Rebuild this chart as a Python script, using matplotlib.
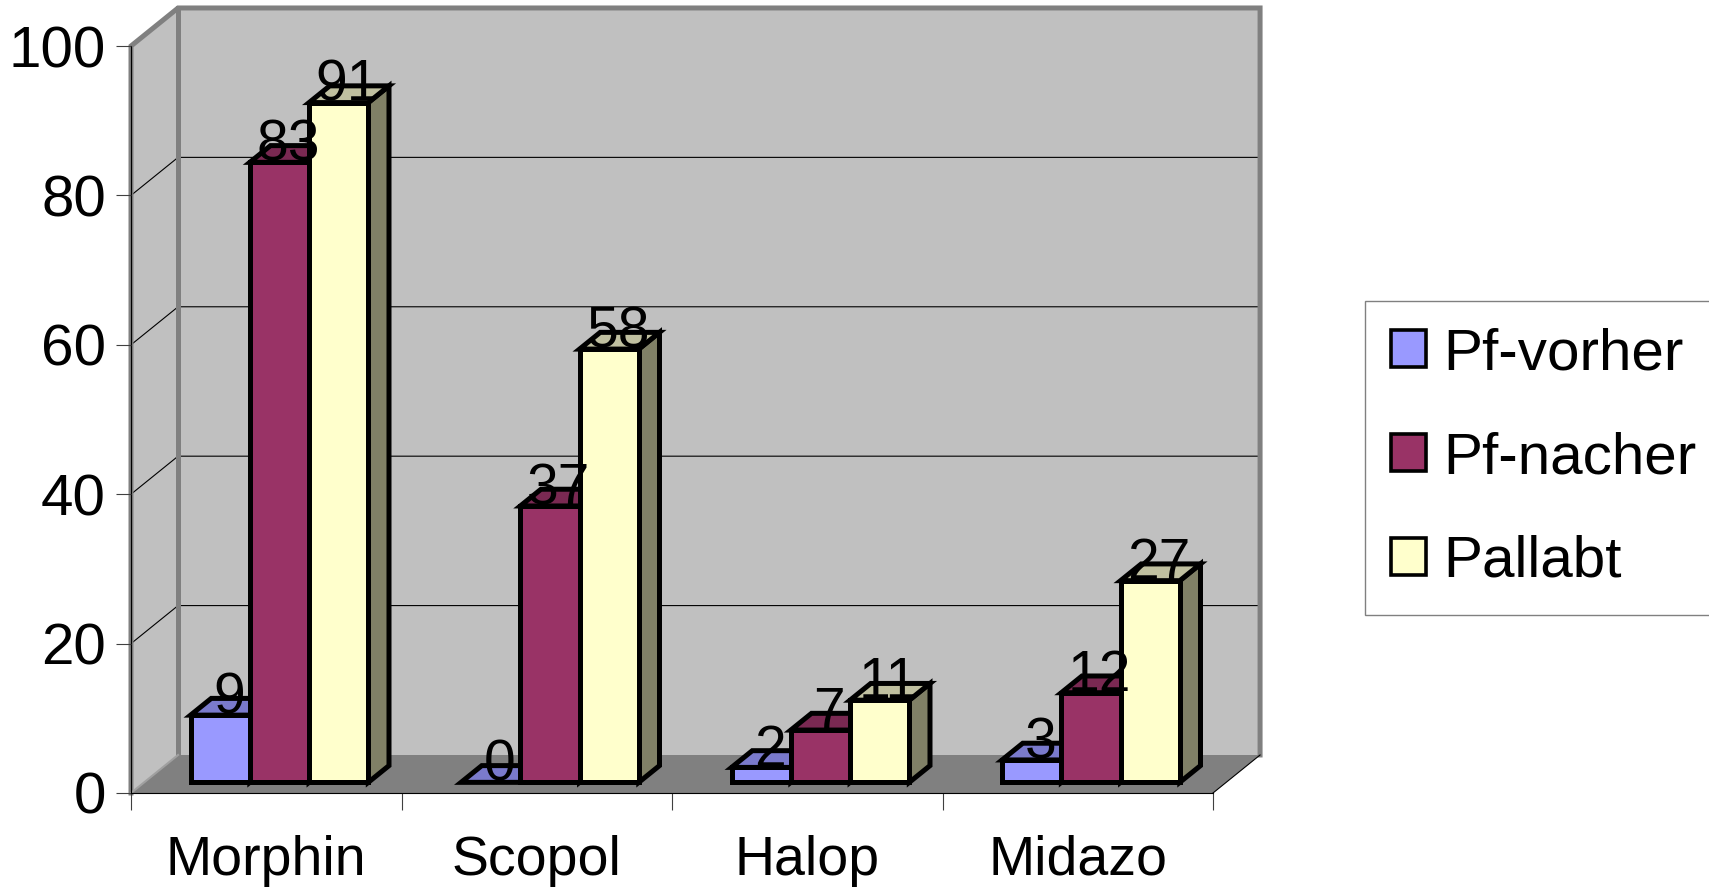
import matplotlib.pyplot as plt
from matplotlib.patches import Polygon, Patch

plt.rcParams['font.family'] = ['Liberation Sans', 'DejaVu Sans']

categories = ['Morphin', 'Scopol', 'Halop', 'Midazo']
series_names = ['Pf-vorher', 'Pf-nacher', 'Pallabt']
pf_vorher = [9, 0, 2, 3]
pf_nacher = [83, 37, 7, 12]
pallabt = [91, 58, 11, 27]
y_ticks = [0, 20, 40, 60, 80, 100]

front_colors = ['#9999FF', '#993366', '#FFFFCC']
top_colors = ['#7A7ACC', '#7A2952', '#C0C0A0']
side_colors = ['#4D4D80', '#4D1A33', '#808066']

# depth of the floor, in category units (x) and value units (y)
DX, DY = 0.174, 5.09
BAR_W = 0.219
GROUP_PAD = (1 - 3 * BAR_W) / 2
D0, D1 = 0.28, 0.72  # bars sit in the middle of the floor depth


def proj(x, v, d):
    """Front-plane data coords pushed back by depth fraction d."""
    return (x + d * DX, v + d * DY)


def line(ax, pts, **kw):
    xs, ys = zip(*pts)
    ax.plot(xs, ys, clip_on=False, **kw)


fig = plt.figure(figsize=(17.09, 8.89), dpi=100)
ax = fig.add_axes([131 / 1709, 96 / 889, 1082 / 1709, 747 / 889])
n = len(categories)
top = y_ticks[-1]
ax.set_xlim(0, n)
ax.set_ylim(0, top)
ax.patch.set_visible(False)

wall = '#C0C0C0'
edge = '#808080'

# floor, side wall and back wall
ax.add_patch(Polygon([proj(0, 0, 0), proj(n, 0, 0), proj(n, 0, 1), proj(0, 0, 1)],
                     facecolor='#808080', edgecolor='none', zorder=0, clip_on=False))
ax.add_patch(Polygon([proj(0, 0, 0), proj(0, top, 0), proj(0, top, 1), proj(0, 0, 1)],
                     facecolor=wall, edgecolor='none', zorder=0, clip_on=False))
ax.add_patch(Polygon([proj(0, 0, 1), proj(0, top, 1), proj(n, top, 1), proj(n, 0, 1)],
                     facecolor=wall, edgecolor='none', zorder=0, clip_on=False))

for v in y_ticks[1:-1]:
    line(ax, [proj(0, v, 0), proj(0, v, 1), proj(n, v, 1)], color='black', lw=0.8, zorder=1)

line(ax, [proj(0, 0, 0), proj(0, top, 0), proj(0, top, 1), proj(n, top, 1), proj(n, 0, 1)],
     color=edge, lw=3.6, zorder=1, solid_joinstyle='miter')
line(ax, [proj(0, top, 1), proj(0, 0, 1)], color=edge, lw=3.6, zorder=1)
line(ax, [proj(0, 0, 0), proj(0, 0, 1)], color='#A0A0A0', lw=1.5, zorder=1)
line(ax, [proj(n, 0, 0), proj(n, 0, 1)], color='black', lw=0.8, zorder=1)

# bars: side, top, front for each series from left to right
values = [pf_vorher, pf_nacher, pallabt]
for i in range(n):
    for s, vals in enumerate(values):
        v = vals[i]
        x0 = i + GROUP_PAD + s * BAR_W
        x1 = x0 + BAR_W
        faces = [([proj(x0, v, D0), proj(x1, v, D0), proj(x1, v, D1), proj(x0, v, D1)], top_colors[s])]
        if v > 0:
            faces.insert(0, ([proj(x1, 0, D0), proj(x1, 0, D1), proj(x1, v, D1), proj(x1, v, D0)], side_colors[s]))
            faces.append(([proj(x0, 0, D0), proj(x1, 0, D0), proj(x1, v, D0), proj(x0, v, D0)], front_colors[s]))
        for pts, c in faces:
            ax.add_patch(Polygon(pts, closed=True, facecolor=c, edgecolor='black', lw=3.6,
                                 joinstyle='miter', zorder=3, clip_on=False))

for i in range(n):
    for s, vals in enumerate(values):
        v = vals[i]
        cx = i + GROUP_PAD + (s + 0.5) * BAR_W
        ax.text(cx + 0.47 * DX, v + 0.33 * DY, f'{v}', ha='center', va='baseline',
                fontsize=41, zorder=10)

# axes
for side in ('top', 'right'):
    ax.spines[side].set_visible(False)
for side in ('left', 'bottom'):
    ax.spines[side].set_linewidth(0.8)
ax.spines['left'].set_zorder(1.5)
ax.set_yticks(y_ticks)
ax.tick_params(axis='y', direction='out', length=11, width=0.8, pad=7, labelsize=42,
               color='#404040')
ax.set_xticks(range(n + 1), [''] * (n + 1))
ax.set_xticks([i + 0.5 for i in range(n)], categories, minor=True)
ax.tick_params(axis='x', which='major', direction='out', length=12, width=0.8, color='#404040')
ax.tick_params(axis='x', which='minor', length=0, pad=30, labelsize=40)

handles = [Patch(facecolor=c, edgecolor='black', linewidth=2.6) for c in front_colors]
leg = fig.legend(handles, series_names, loc='center left',
                 bbox_to_anchor=(1365 / 1709, 1 - 458 / 889), fontsize=42,
                 frameon=True, fancybox=False, edgecolor='#808080', framealpha=1,
                 handlelength=0.6, handleheight=0.6, handletextpad=0.3,
                 labelspacing=0.85, borderpad=0.45, borderaxespad=0)
leg.get_frame().set_linewidth(1.0)

fig.savefig('out.png', dpi=100)
